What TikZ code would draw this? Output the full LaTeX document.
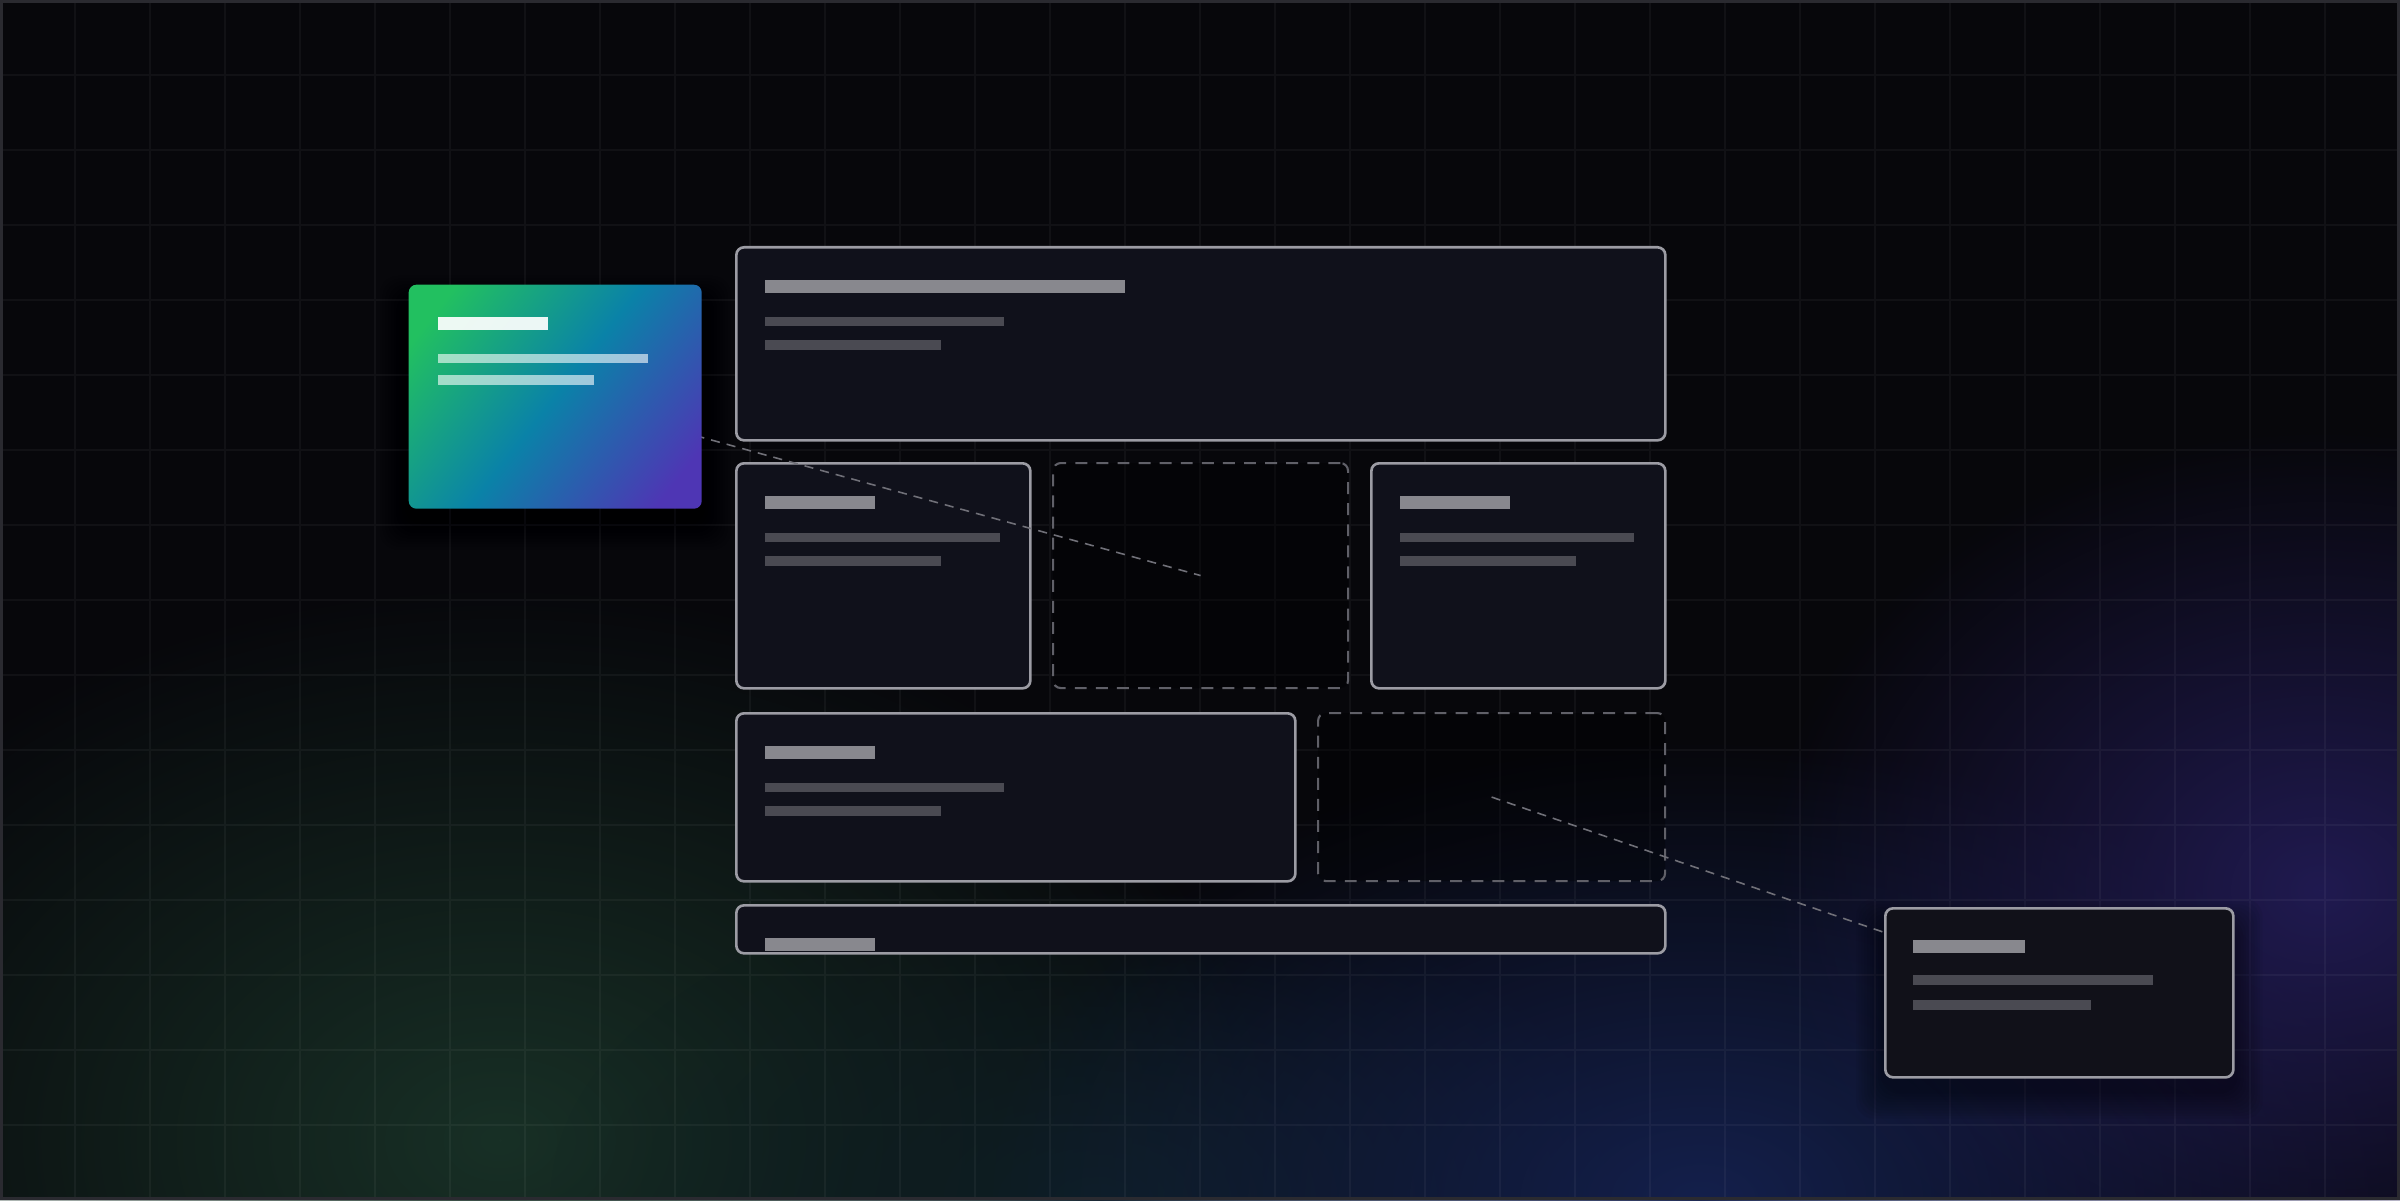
\documentclass[tikz,border=0pt]{standalone}
\usetikzlibrary{fadings}
\definecolor{bgdark}{RGB}{7,7,11}
\definecolor{panelfill}{RGB}{16,17,27}
\definecolor{notefill}{RGB}{17,17,25}
\definecolor{panelline}{RGB}{156,156,164}
\definecolor{slotline}{RGB}{96,96,104}
\definecolor{linkgray}{RGB}{112,112,120}
\definecolor{titlegray}{RGB}{136,136,142}
\definecolor{linegray}{RGB}{74,74,82}
\definecolor{framegray}{RGB}{42,42,48}
\definecolor{glowgreen}{RGB}{24,48,38}
\definecolor{glowteal}{RGB}{14,30,36}
\definecolor{glownavy}{RGB}{20,32,76}
\definecolor{glowviolet}{RGB}{32,26,80}
\definecolor{gradA}{RGB}{34,192,96}
\definecolor{gradB}{RGB}{10,130,168}
\definecolor{gradC}{RGB}{78,54,180}
\tikzfading[name=glow, inner color=transparent!0, outer color=transparent!100]
\pgfdeclarehorizontalshading{cardgrad}{100bp}{color(0bp)=(gradA); color(22bp)=(gradA); color(50bp)=(gradB); color(78bp)=(gradC); color(100bp)=(gradC)}
\pgfdeclarelayer{base}
\pgfdeclarelayer{links}
\pgfsetlayers{base,links,main}
\begin{document}
\begin{tikzpicture}[
   panel/.style={draw=panelline, fill=panelfill, line width=0.75pt, rounded corners=2.2pt, inner sep=0pt, anchor=north west},
   slot/.style={draw=slotline, fill=black, fill opacity=0.3, line width=0.6pt, dash pattern=on 3.4pt off 2.6pt, rounded corners=2.2pt, inner sep=0pt, anchor=north west},
   flowcard/.style={shade, shading=cardgrad, shading angle=-38, rounded corners=2.2pt, inner sep=0pt, anchor=north west},
   notecard/.style={panel, fill=notefill},
   link/.style={draw=linkgray, line width=0.45pt, dash pattern=on 2.6pt off 2pt},
   titlebar/.style={fill=titlegray},
   textbar/.style={fill=linegray}]
   \useasboundingbox (0,0) rectangle (24,12);
   \begin{pgfonlayer}{base}
   % backdrop, glows and grid
   \fill [bgdark] (0,0) rectangle (24,12);
   \fill [glowgreen, path fading=glow] (5.0,0.6) ellipse (7.8 and 5.6);
   \fill [glowteal, path fading=glow] (11,0) ellipse (5.5 and 3.2);
   \fill [glownavy, path fading=glow] (17,0) ellipse (7.2 and 4.6);
   \fill [glowviolet, path fading=glow] (23.2,3.1) ellipse (5.6 and 4.6);
   \draw [white, opacity=0.045, line width=0.5pt] (0,0) grid[step=0.75] (24,12);
   \draw [framegray, line width=0.85pt] (0.015,0.015) rectangle (23.985,11.985);
   % layout grid
   \node [panel, minimum width=9.29cm, minimum height=1.93cm] (hdr) at (7.35,9.54) {};
   \node [panel, minimum width=2.94cm, minimum height=2.25cm] (colA) at (7.35,7.38) {};
   \node [slot, minimum width=2.95cm, minimum height=2.25cm] (slotA) at (10.52,7.38) {};
   \node [panel, minimum width=2.94cm, minimum height=2.25cm] (colC) at (13.70,7.38) {};
   \node [panel, minimum width=5.59cm, minimum height=1.68cm] (wide) at (7.35,4.88) {};
   \node [slot, minimum width=3.47cm, minimum height=1.68cm] (slotB) at (13.17,4.88) {};
   \node [panel, minimum width=9.29cm, minimum height=0.48cm] (tail) at (7.35,2.96) {};
   \foreach \nm/\tw/\la in {hdr/3.60/2.39, colA/1.10/2.35, colC/1.10/2.34, wide/1.10/2.39} {
      \fill [titlebar] ([shift={(0.30,-0.34)}]\nm.north west) rectangle ++(\tw,-0.13);
      \fill [textbar] ([shift={(0.30,-0.71)}]\nm.north west) rectangle ++(\la,-0.09);
      \fill [textbar] ([shift={(0.30,-0.94)}]\nm.north west) rectangle ++(1.76,-0.10);
   }
   \fill [titlebar] ([shift={(0.30,-0.34)}]tail.north west) rectangle ++(1.10,-0.13);
   \end{pgfonlayer}
   % floating cards
   \node [flowcard, minimum width=2.93cm, minimum height=2.24cm] (flow) at (4.08,9.16) {};
   \node [notecard, minimum width=3.48cm, minimum height=1.69cm] (note) at (18.84,2.93) {};
   \fill [white, opacity=0.92] ([shift={(0.30,-0.33)}]flow.north west) rectangle ++(1.10,-0.13);
   \fill [white, opacity=0.6] ([shift={(0.30,-0.70)}]flow.north west) rectangle ++(2.10,-0.09);
   \fill [white, opacity=0.6] ([shift={(0.30,-0.91)}]flow.north west) rectangle ++(1.56,-0.10);
   \fill [titlebar] ([shift={(0.29,-0.33)}]note.north west) rectangle ++(1.12,-0.13);
   \fill [textbar] ([shift={(0.29,-0.68)}]note.north west) rectangle ++(2.40,-0.10);
   \fill [textbar] ([shift={(0.29,-0.93)}]note.north west) rectangle ++(1.78,-0.10);
   \begin{pgfonlayer}{links}
   \foreach \c in {flow,note}
      \foreach \s in {1,...,10}
         \fill [black, opacity=0.045, rounded corners=5pt] ([shift={(-0.028*\s,-0.12-0.028*\s)}]\c.south west) rectangle ([shift={(0.028*\s,-0.2+0.028*\s)}]\c.north east);
   \draw [link] (flow.center) -- (slotA.center);
   \draw [link] (slotB.center) -- (note.center);
   \end{pgfonlayer}
\end{tikzpicture}
\end{document}
